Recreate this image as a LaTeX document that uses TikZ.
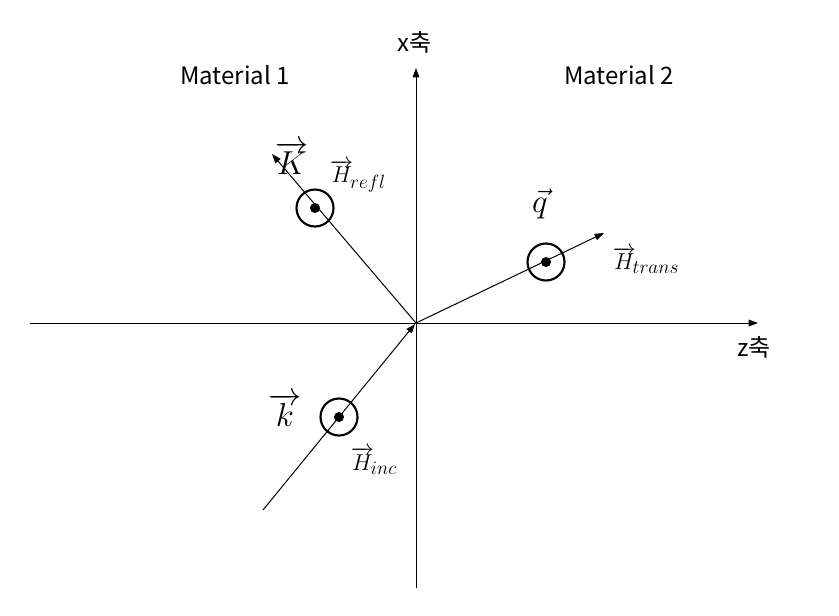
\documentclass[tikz,border=0pt]{standalone}
\usepackage{fontspec}
\setmainfont{Noto Sans CJK KR}
\usetikzlibrary{arrows.meta}
\DeclareMathSizes{18}{18}{15}{12}
\DeclareMathSizes{31}{31}{22}{16}
\begin{document}
\begin{tikzpicture}[x=0.75pt,y=-0.75pt,
  axis/.style={line width=0.75pt,-{Triangle[length=7pt,width=5pt]}},
  ray/.style={line width=0.75pt,-{Triangle[length=7pt,width=5pt]}},
  ring/.style={line width=1.6pt},
  lab/.style={font=\fontsize{18}{21}\selectfont,inner sep=0pt},
  big/.style={font=\fontsize{31}{35}\selectfont,inner sep=0pt},
  small/.style={font=\fontsize{18}{21}\selectfont,inner sep=0pt}]
\useasboundingbox (0,0) rectangle (839,615);
\coordinate (zl) at (30,323);
\coordinate (zr) at (758,323);
\coordinate (xb) at (416,588);
\coordinate (xt) at (416,68);
\coordinate (o) at (416,323);
\coordinate (ist) at (263,510);
\coordinate (ien) at (415,324);
\coordinate (rend) at (272,154);
\coordinate (tend) at (604,233);
\coordinate (c1) at (315,208);
\coordinate (c2) at (546,262);
\coordinate (c3) at (339,417);
\draw[axis] (zl) -- (zr);
\draw[axis] (xb) -- (xt);
\draw[ray] (ist) -- (ien);
\draw[ray] (o) -- (rend);
\draw[ray] (o) -- (tend);
\node[lab] (xl) at (415,42) {x축};
\node[lab] (zlab) at (754,347) {z축};
\node[lab] (m1) at (235,75) {Material 1};
\node[lab] (m2) at (619,75) {Material 2};
\foreach \c in {c1,c2,c3}{
  \draw[ring] (\c) circle[radius=18.5];
  \fill (\c) circle[radius=5];
}
\node[big] (K) at (292,158) {$\overrightarrow{K}$};
\node[small] (Hr) at (358,176) {$\overrightarrow{H}_{\!refl}$};
\node[big] (q) at (540,204) {$\vec{q}$};
\node[small] (Ht) at (646,260) {$\overrightarrow{H}_{\!trans}$};
\node[big] (k) at (285,410) {$\overrightarrow{k}$};
\node[small] (Hi) at (374,461) {$\overrightarrow{H}_{\!inc}$};
\end{tikzpicture}
\end{document}
